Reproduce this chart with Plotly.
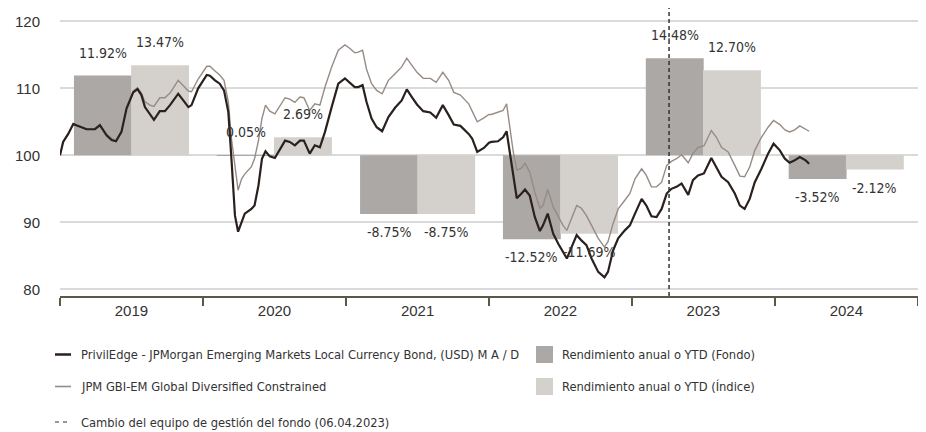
import plotly.graph_objects as go
import pandas as pd

# ---------------- data ----------------
dates = [
    "2019-01-01", "2019-01-09", "2019-01-22", "2019-02-04", "2019-02-12", "2019-02-25",
    "2019-03-10", "2019-03-31", "2019-04-13", "2019-04-30", "2019-05-13", "2019-05-24",
    "2019-06-07", "2019-06-20", "2019-07-07", "2019-07-18", "2019-07-28", "2019-08-06",
    "2019-08-19", "2019-08-29", "2019-09-13", "2019-09-26", "2019-10-09", "2019-10-30",
    "2019-11-12", "2019-11-25", "2019-12-03", "2019-12-20", "2020-01-11", "2020-01-19",
    "2020-02-01", "2020-02-13", "2020-02-24", "2020-03-06", "2020-03-14", "2020-03-23",
    "2020-03-31", "2020-04-09", "2020-04-17", "2020-05-04", "2020-05-12", "2020-05-22",
    "2020-05-31", "2020-06-09", "2020-06-20", "2020-07-03", "2020-07-16", "2020-07-29",
    "2020-08-10", "2020-08-23", "2020-09-05", "2020-09-15", "2020-09-30", "2020-10-13",
    "2020-10-26", "2020-11-08", "2020-11-25", "2020-12-12", "2020-12-29", "2021-01-10",
    "2021-01-23", "2021-02-01", "2021-02-12", "2021-02-22", "2021-03-07", "2021-03-20",
    "2021-04-03", "2021-04-19", "2021-05-06", "2021-05-23", "2021-06-05", "2021-06-18",
    "2021-07-01", "2021-07-17", "2021-08-04", "2021-08-19", "2021-09-05", "2021-09-20",
    "2021-10-03", "2021-10-20", "2021-11-10", "2021-11-19", "2021-12-02", "2021-12-19",
    "2022-01-01", "2022-01-07", "2022-01-24", "2022-02-06", "2022-02-15", "2022-02-23",
    "2022-03-04", "2022-03-13", "2022-03-25", "2022-04-03", "2022-04-15", "2022-04-28",
    "2022-05-11", "2022-05-19", "2022-05-31", "2022-06-14", "2022-06-27", "2022-07-09",
    "2022-07-19", "2022-07-31", "2022-08-13", "2022-08-25", "2022-09-07", "2022-09-20",
    "2022-10-07", "2022-10-23", "2022-11-01", "2022-11-14", "2022-11-27", "2022-12-14",
    "2022-12-27", "2023-01-09", "2023-01-26", "2023-02-07", "2023-02-20", "2023-03-05",
    "2023-03-18", "2023-03-31", "2023-04-12", "2023-04-25", "2023-05-08", "2023-05-25",
    "2023-06-06", "2023-06-19", "2023-07-04", "2023-07-23", "2023-08-05", "2023-08-18",
    "2023-09-04", "2023-09-21", "2023-10-04", "2023-10-16", "2023-10-29", "2023-11-11",
    "2023-11-28", "2023-12-15", "2023-12-29", "2024-01-14", "2024-01-27", "2024-02-08",
    "2024-02-21", "2024-03-05", "2024-03-20", "2024-03-29",
]

fund = [
    100.0, 102.0, 103.2, 104.7, 104.5, 104.2,
    103.9, 103.9, 104.5, 103.0, 102.3, 102.1,
    103.5, 107.0, 109.4, 109.9, 109.0, 107.2,
    106.1, 105.3, 106.6, 106.6, 107.5, 109.2,
    108.2, 107.2, 107.5, 110.0, 112.0, 111.9,
    111.2, 110.7, 109.7, 106.5, 99.5, 91.0,
    88.6, 90.0, 91.3, 92.0, 92.5, 95.5,
    99.5, 100.6, 99.85, 99.6, 101.0, 102.2,
    102.0, 101.5, 102.2, 102.2, 100.25, 101.5,
    101.2, 103.5, 107.2, 110.7, 111.5, 110.9,
    110.2, 110.2, 110.5, 108.0, 105.5, 104.2,
    103.6, 105.7, 107.1, 108.2, 109.85, 108.7,
    107.6, 106.6, 106.4, 105.6, 107.5, 106.0,
    104.6, 104.4, 103.2, 102.5, 100.5, 101.1,
    101.9, 102.0, 102.1, 102.7, 103.6, 100.5,
    97.0, 93.6, 94.3, 94.9, 94.0, 90.8,
    88.7, 89.55, 91.3, 88.3, 86.8, 85.6,
    84.6, 86.3, 88.1, 87.3, 86.6, 84.6,
    82.6, 81.8, 82.6, 85.8, 87.6, 88.8,
    89.55, 91.3, 93.5, 92.5, 90.9, 90.8,
    92.0, 94.3, 95.0, 95.3, 95.8, 94.1,
    96.3, 97.0, 97.3, 99.6, 98.25, 96.8,
    96.0, 94.3, 92.5, 92.0, 93.5, 96.0,
    98.0, 100.25, 101.75, 100.75, 99.5, 98.9,
    99.25, 99.75, 99.25, 98.75,
]

index = [
    100.0, 102.0, 103.2, 104.6, 104.4, 104.1,
    103.9, 103.9, 104.4, 103.2, 102.5, 102.2,
    103.7, 107.2, 109.6, 110.1, 109.3, 108.0,
    107.5, 107.3, 108.6, 108.6, 109.3, 111.2,
    110.4, 109.6, 109.5, 111.4, 113.3, 113.3,
    112.6, 112.0, 111.2, 108.0, 102.5, 98.0,
    94.8, 96.5, 97.2, 98.3, 99.5, 102.2,
    105.5, 107.5, 106.6, 106.2, 107.5, 108.6,
    108.4, 107.9, 108.7, 108.6, 106.7, 107.7,
    107.5, 110.2, 113.2, 115.7, 116.5, 116.0,
    115.3, 115.4, 115.7, 112.9, 110.7, 109.7,
    109.2, 111.2, 112.2, 113.2, 114.5, 113.4,
    112.4, 111.5, 111.5, 110.9, 112.4, 111.2,
    109.4, 109.0, 107.7, 106.6, 105.0, 105.6,
    106.1, 106.1, 106.4, 106.7, 107.7, 104.5,
    100.5, 97.8, 98.1, 98.8, 97.5, 94.5,
    92.1, 92.5, 94.9, 92.3, 90.8, 89.55,
    88.8, 90.55, 92.5, 92.1, 91.0, 89.55,
    87.6, 86.3, 87.1, 89.8, 92.0, 93.3,
    94.3, 96.5, 98.0, 97.0, 95.3, 95.3,
    96.0, 98.5, 99.1, 99.5, 100.1, 98.9,
    100.25, 101.2, 101.4, 103.7, 102.7, 101.2,
    100.5, 98.5, 96.9, 96.8, 98.25, 100.75,
    102.7, 104.2, 105.2, 104.6, 103.8, 103.5,
    103.8, 104.4, 103.9, 103.6,
]

years = [2019, 2020, 2021, 2022, 2023, 2024]
fund_returns = [11.92, 0.05, -8.75, -12.52, 14.48, -3.52]
index_returns = [13.47, 2.69, -8.75, -11.69, 12.70, -2.12]

fund_name = "PrivilEdge - JPMorgan Emerging Markets Local Currency Bond, (USD) M A / D"
index_name = "JPM GBI-EM Global Diversified Constrained"
bar_fund_name = "Rendimiento anual o YTD (Fondo)"
bar_index_name = "Rendimiento anual o YTD (Índice)"
change_name = "Cambio del equipo de gestión del fondo (06.04.2023)"
change_date = "2023-04-06"

# ---------------- style ----------------
C_FUND = "#2a201e"
C_INDEX = "#978b84"
C_BAR_FUND = "#aca8a6"
C_BAR_INDEX = "#d4d0cc"
C_TEXT = "#333333"
C_AXIS = "#5a5a44"
COND = "DejaVu Sans Condensed, Liberation Sans, sans-serif"
REG = "Liberation Sans, Arial, sans-serif"

# the page body has an 8px margin: figure is placed at (8, 8) in the window
OFF = 8
W, H = 926 - OFF, 432 - OFF
ML, MR, MT, MB = 60 - OFF, 8, 8 - OFF, 432 - 296
PW, PH = W - ML - MR, H - MT - MB


def px(xpage):
    return (xpage - OFF - ML) / PW


def py(ypage):
    return (OFF + H - MB - ypage) / PH


YEAR_MS = 365.25 * 86400000


def year_pos(y, frac):
    return pd.Timestamp(f"{y}-01-01") + pd.Timedelta(days=365.25 * frac)


fund_x = [year_pos(y, 0.30) for y in years]
index_x = [year_pos(y, 0.70) for y in years]
bar_w = 0.405 * YEAR_MS

fig = go.Figure()
fig.add_trace(go.Bar(x=fund_x, y=fund_returns, base=100, width=bar_w,
                     marker=dict(color=C_BAR_FUND, line=dict(width=0)),
                     name=bar_fund_name, showlegend=False, hoverinfo="skip"))
fig.add_trace(go.Bar(x=index_x, y=index_returns, base=100, width=bar_w,
                     marker=dict(color=C_BAR_INDEX, line=dict(width=0)),
                     name=bar_index_name, showlegend=False, hoverinfo="skip"))
fig.add_trace(go.Scatter(x=dates, y=index, mode="lines", name=index_name,
                         line=dict(color=C_INDEX, width=1.4), showlegend=False))
fig.add_trace(go.Scatter(x=dates, y=fund, mode="lines", name=fund_name,
                         line=dict(color=C_FUND, width=2.2), showlegend=False))

annotations = []
for xs, vals in ((fund_x, fund_returns), (index_x, index_returns)):
    for xv, v in zip(xs, vals):
        annotations.append(dict(
            x=xv, y=100 + v, xref="x", yref="y", showarrow=False,
            text=f"{v:.2f}%", yshift=23 if v >= 0 else -18,
            font=dict(family=COND, size=14, color=C_TEXT),
            xanchor="center", yanchor="middle"))

shapes = [
    dict(type="line", xref="paper", yref="y", x0=0, x1=1, y0=100, y1=100,
         line=dict(color="#bdbdbd", width=1.5), layer="below"),
    dict(type="line", xref="x", yref="paper", x0=change_date, x1=change_date, y0=0, y1=1,
         line=dict(color="#333333", width=1.5, dash="4px,3px"), layer="above"),
]

# ---- manual legend ----
rows = [354.5, 386.5, 422]
shapes += [
    dict(type="line", xref="paper", yref="paper", x0=px(55), x1=px(71), y0=py(rows[0]), y1=py(rows[0]),
         line=dict(color=C_FUND, width=2.5)),
    dict(type="line", xref="paper", yref="paper", x0=px(55), x1=px(71), y0=py(rows[1]), y1=py(rows[1]),
         line=dict(color=C_INDEX, width=1.6)),
    dict(type="line", xref="paper", yref="paper", x0=px(55), x1=px(70), y0=py(rows[2]), y1=py(rows[2]),
         line=dict(color="#333333", width=1.2, dash="4px,4px")),
    dict(type="rect", xref="paper", yref="paper", x0=px(536), x1=px(553), y0=py(rows[0] - 8.5), y1=py(rows[0] + 8.5),
         fillcolor=C_BAR_FUND, line=dict(width=0)),
    dict(type="rect", xref="paper", yref="paper", x0=px(536), x1=px(553), y0=py(rows[1] - 8.5), y1=py(rows[1] + 8.5),
         fillcolor=C_BAR_INDEX, line=dict(width=0)),
]
for text, xpix, ypix in ((fund_name, 79, rows[0]), (index_name, 79, rows[1]), (change_name, 79, rows[2]),
                         (bar_fund_name, 560, rows[0]), (bar_index_name, 560, rows[1])):
    annotations.append(dict(x=px(xpix), y=py(ypix), xref="paper", yref="paper", text=text,
                            showarrow=False, xanchor="left", yanchor="middle",
                            font=dict(family=COND, size=12.8, color=C_TEXT)))

fig.update_layout(
    width=W, height=H,
    margin=dict(l=ML, r=MR, t=MT, b=MB, pad=0),
    paper_bgcolor="white", plot_bgcolor="white",
    showlegend=False,
    barmode="overlay",
    shapes=shapes,
    annotations=annotations,
    xaxis=dict(
        type="date", range=["2019-01-01", "2025-01-01"], automargin=False,
        tick0="2019-01-01", dtick="M12", tickformat="%Y", ticklabelmode="period",
        ticks="outside", ticklen=8, tickwidth=1.5, tickcolor=C_AXIS,
        showline=True, linecolor=C_AXIS, linewidth=1.5,
        showgrid=False, zeroline=False, ticklabelstandoff=-8,
        tickfont=dict(family=REG, size=15, color=C_TEXT),
    ),
    yaxis=dict(
        range=[79, 122], tickvals=[80, 90, 100, 110, 120], automargin=False,
        showgrid=True, gridcolor="#dadada", gridwidth=1.5,
        zeroline=False, showline=False, ticks="",
        ticklabelstandoff=19,
        tickfont=dict(family=REG, size=15, color=C_TEXT),
    ),
)

fig.write_html("out.html")
